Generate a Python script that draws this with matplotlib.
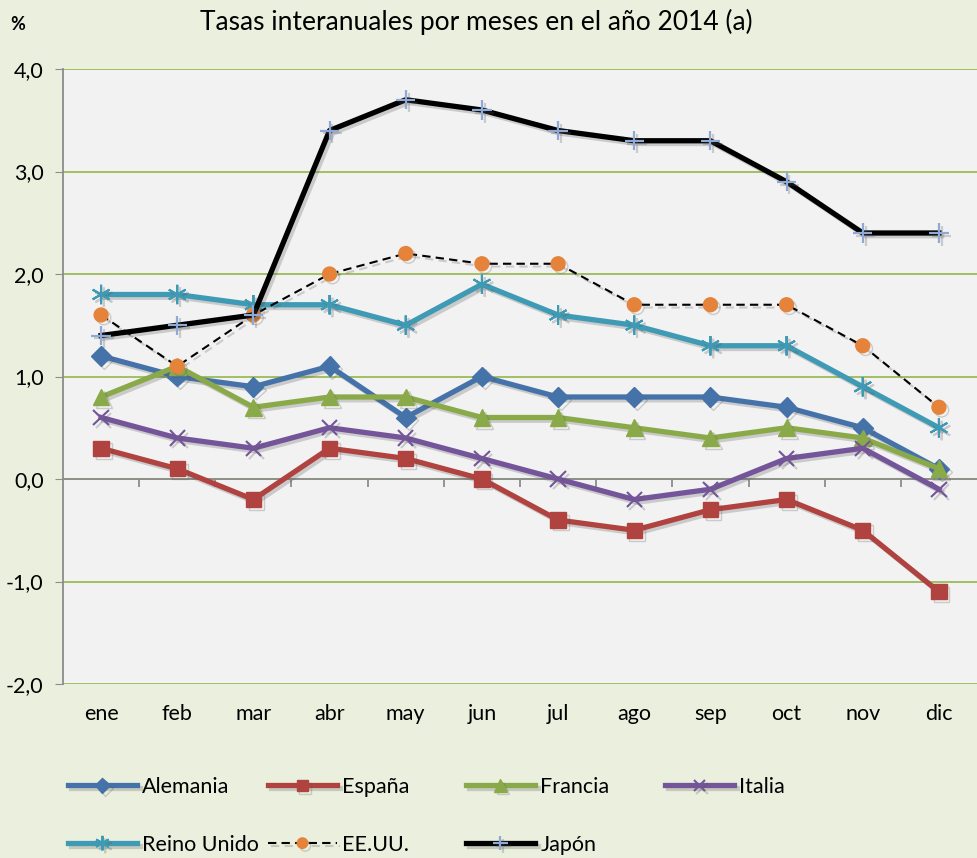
import matplotlib
matplotlib.use("Agg")
import matplotlib.pyplot as plt
import matplotlib.patheffects as pe

plt.rcParams['font.family'] = ['Lato', 'DejaVu Sans']

meses = ['ene', 'feb', 'mar', 'abr', 'may', 'jun', 'jul', 'ago', 'sep', 'oct', 'nov', 'dic']

alemania = [1.2, 1.0, 0.9, 1.1, 0.6, 1.0, 0.8, 0.8, 0.8, 0.7, 0.5, 0.1]
espana = [0.3, 0.1, -0.2, 0.3, 0.2, 0.0, -0.4, -0.5, -0.3, -0.2, -0.5, -1.1]
francia = [0.8, 1.1, 0.7, 0.8, 0.8, 0.6, 0.6, 0.5, 0.4, 0.5, 0.4, 0.1]
italia = [0.6, 0.4, 0.3, 0.5, 0.4, 0.2, 0.0, -0.2, -0.1, 0.2, 0.3, -0.1]
reino_unido = [1.8, 1.8, 1.7, 1.7, 1.5, 1.9, 1.6, 1.5, 1.3, 1.3, 0.9, 0.5]
eeuu = [1.6, 1.1, 1.6, 2.0, 2.2, 2.1, 2.1, 1.7, 1.7, 1.7, 1.3, 0.7]
japon = [1.4, 1.5, 1.6, 3.4, 3.7, 3.6, 3.4, 3.3, 3.3, 2.9, 2.4, 2.4]

yticks = [-2, -1, 0, 1, 2, 3, 4]

fig = plt.figure(figsize=(9.77, 8.58), dpi=100)
fig.patch.set_facecolor('#EBF0DE')
ax = fig.add_axes([63 / 977, 1 - 684 / 858, 1 - 63 / 977, (684 - 69) / 858])
ax.set_facecolor('#F2F2F2')

x = list(range(len(meses)))
shadow = [pe.SimpleLineShadow(offset=(2, -2), alpha=0.25, shadow_color='#555555'), pe.Normal()]

series = [
    ('Alemania', alemania, dict(color='#4573A9', lw=3.8, marker='D', ms=10, mfc='#4573A9', mec='#4573A9')),
    ('España', espana, dict(color='#B0423F', lw=3.8, marker='s', ms=11, mfc='#B0423F', mec='#B0423F')),
    ('Francia', francia, dict(color='#8AAA4A', lw=3.8, marker='^', ms=12, mfc='#8AAA4A', mec='#8AAA4A')),
    ('Italia', italia, dict(color='#74559A', lw=3.8, marker='x', ms=11, mew=1.5, mec='#74559A')),
    ('Reino Unido', reino_unido, dict(color='#3F9BB5', lw=3.8, marker=(6, 2, 0), ms=14, mew=1.5, mec='#3F9BB5')),
    ('EE.UU.', eeuu, dict(color='black', lw=1.5, ls=(0, (4, 2.5)), marker='o', ms=10, mfc='#E5833A', mec='#E5833A')),
    ('Japón', japon, dict(color='black', lw=3.8, marker='+', ms=14, mew=1.6, mec='#8FA9D6')),
]

handles = []
for name, vals, kw in series:
    ln, = ax.plot(x, vals, label=name, path_effects=shadow, zorder=3, **kw)
    handles.append(ln)

ax.set_xlim(-0.5, len(meses) - 0.5)
ax.set_ylim(-2, 4)
ax.set_yticks(yticks)
ax.set_yticklabels([f'{v:.1f}'.replace('.', ',') for v in yticks], fontsize=15.5)
ax.yaxis.grid(True, color='#9BBB59', lw=1.3)
ax.set_axisbelow(True)

for s in ['top', 'right']:
    ax.spines[s].set_visible(False)
ax.spines['left'].set_color('#8C8C8C')
ax.spines['left'].set_linewidth(1.3)
ax.spines['bottom'].set_position(('data', 0))
ax.spines['bottom'].set_color('#8C8C8C')
ax.spines['bottom'].set_linewidth(1.3)
ax.spines['bottom'].set_zorder(2)
ax.tick_params(axis='y', length=6, color='#8C8C8C', pad=8)

# category boundary ticks on the zero line, labels at the bottom
ax.set_xticks([i + 0.5 for i in x[:-1]], minor=True)
ax.set_xticks(x)
ax.set_xticklabels([])
ax.tick_params(axis='x', which='major', length=0)
ax.tick_params(axis='x', which='minor', length=6, color='#8C8C8C', width=1.3, direction='out')
for i, m in zip(x, meses):
    ax.text(i, -0.049, m, transform=ax.get_xaxis_transform(), ha='center', va='center', fontsize=15.5)

fig.text(476 / 977, 1 - 22 / 858, 'Tasas interanuales por meses en el año 2014 (a)',
         ha='center', va='center', fontsize=19)
fig.text(10 / 977, 1 - 24 / 858, '%', ha='left', va='center', fontsize=13, fontweight='bold')

cols = [[0, 4], [1, 5], [2, 6], [3]]
col_x = [68, 268, 466, 665]
for c, cx in zip(cols, col_x):
    fig.legend([handles[i] for i in c], [series[i][0] for i in c],
               loc='upper left', bbox_to_anchor=(cx / 977, 1 - 777 / 858),
               frameon=False, fontsize=15.5, handlelength=3.2, handletextpad=0.25,
               labelspacing=1.75, borderaxespad=0, borderpad=0, markerscale=0.75)

fig.savefig('out.png', dpi=100, facecolor=fig.get_facecolor())
